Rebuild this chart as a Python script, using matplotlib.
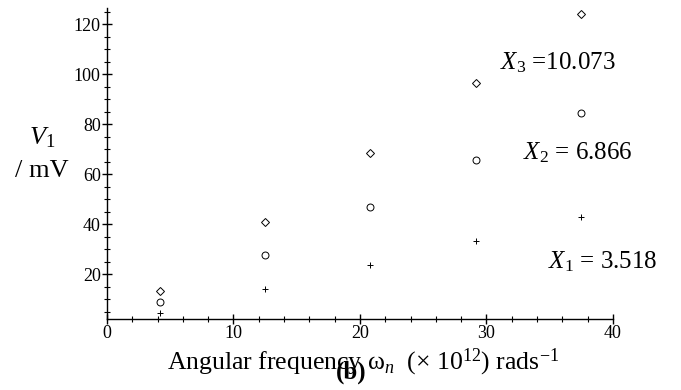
import matplotlib
matplotlib.use("Agg")
import matplotlib.pyplot as plt
from matplotlib.ticker import MultipleLocator

plt.rcParams["font.family"] = ["Liberation Serif", "DejaVu Serif"]
plt.rcParams["mathtext.fontset"] = "custom"
plt.rcParams["mathtext.rm"] = "Liberation Serif"
plt.rcParams["mathtext.it"] = "Liberation Serif:italic"
plt.rcParams["mathtext.bf"] = "Liberation Serif:bold"

# angular frequency (x 10^12 rad/s)
omega = [4.17, 12.5, 20.83, 29.17, 37.5]
# V1 in mV for three X values
v_x1 = [4.3, 13.9, 23.6, 33.3, 43.0]
v_x2 = [8.9, 27.8, 46.7, 65.6, 84.4]
v_x3 = [13.3, 41.0, 68.6, 96.4, 124.2]
labels = [r"$X_1$ = 3.518", r"$X_2$ = 6.866", r"$X_3$ =10.073"]

fig = plt.figure(figsize=(6.81, 3.90), dpi=100)
ax = fig.add_axes([0.157, 0.182, 0.743, 0.797])

ax.plot(omega, v_x1, linestyle="none", marker="+", ms=5, mew=0.7, color="black")
ax.plot(omega, v_x2, linestyle="none", marker="o", ms=5, mew=0.7, mfc="none", color="black")
ax.plot(omega, v_x3, linestyle="none", marker="D", ms=4, mew=0.7, mfc="none", color="black")

ax.set_xlim(0, 40)
ax.set_ylim(2, 126.5)
ax.spines["top"].set_visible(False)
ax.spines["right"].set_visible(False)
for s in ("left", "bottom"):
    ax.spines[s].set_linewidth(1.0)

ax.xaxis.set_major_locator(MultipleLocator(10))
ax.xaxis.set_minor_locator(MultipleLocator(2))
ax.yaxis.set_major_locator(MultipleLocator(20))
ax.yaxis.set_minor_locator(MultipleLocator(5))
ax.set_yticks([20, 40, 60, 80, 100, 120])
ax.tick_params(which="major", direction="inout", length=7, width=1, labelsize=13, pad=1)
ax.tick_params(which="minor", direction="inout", length=4, width=0.8)

# curve labels
ax.text(31.1, 104.8, labels[2], fontsize=18, ha="left", va="center", clip_on=False)
ax.text(32.9, 68.8, labels[1], fontsize=18, ha="left", va="center", clip_on=False)
ax.text(34.9, 24.8, labels[0], fontsize=18, ha="left", va="center", clip_on=False)

# axis labels
fig.text(0.062, 0.646, r"$V_1$", fontsize=19, ha="center", va="center")
fig.text(0.062, 0.562, "/ mV", fontsize=19, ha="center", va="center")
fig.text(0.245, 0.07,
         r"Angular frequency ω$_n$  ($\times$ 10$^{12}$) rads$^{-1}$",
         fontsize=18.5, ha="left", va="center")
fig.text(0.515, 0.045, "(b)", fontsize=18, fontweight="bold", ha="center", va="center")

fig.savefig("out.png", dpi=100)
